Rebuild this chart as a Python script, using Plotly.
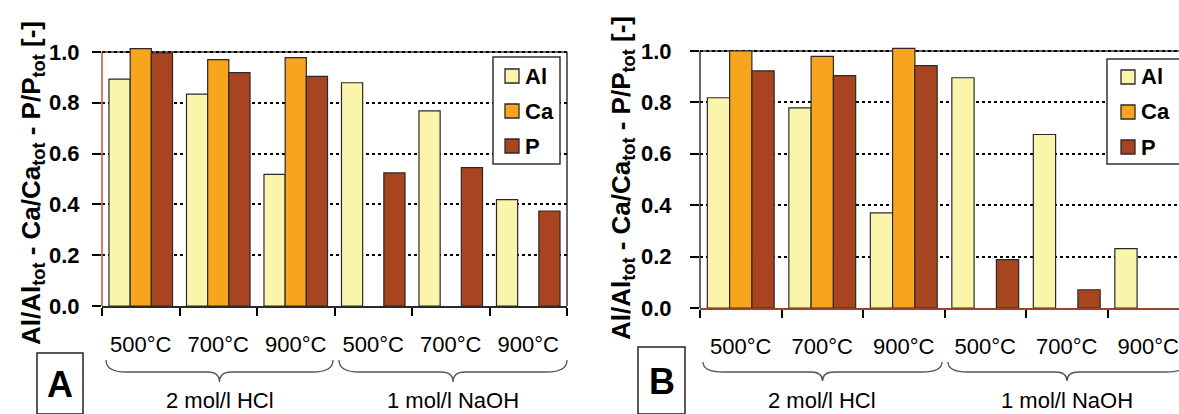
import plotly.graph_objects as go

# ---------------- data ----------------
temps = ["500°C", "700°C", "900°C", "500°C", "700°C", "900°C"]
acids = ["2 mol/l HCl", "1 mol/l NaOH"]
series = ["Al", "Ca", "P"]
y_ticks = [0.0, 0.2, 0.4, 0.6, 0.8, 1.0]

a_al = [0.893, 0.834, 0.518, 0.879, 0.768, 0.419]
a_ca = [1.013, 0.970, 0.978, None, None, None]
a_p = [0.996, 0.919, 0.904, 0.524, 0.545, 0.374]

b_al = [0.818, 0.779, 0.370, 0.896, 0.675, 0.231]
b_ca = [1.000, 0.979, 1.010, None, None, None]
b_p = [0.923, 0.904, 0.943, 0.188, 0.071, None]

# ---------------- style ----------------
W, H = 1179, 414
FONT = "Liberation Sans, Arial, sans-serif"
colors = {"Al": "#FAF5AA", "Ca": "#F8A51E", "P": "#A8441F"}
edge = "#2a2a2a"


def px(x):
    return x / W


def py(y):
    return 1 - y / H


xpos = list(range(len(temps)))

fig = go.Figure()
for panel, vals, xa, ya in [
    ("A", [a_al, a_ca, a_p], "x", "y"),
    ("B", [b_al, b_ca, b_p], "x2", "y2"),
]:
    for name, v in zip(series, vals):
        fig.add_trace(go.Bar(
            x=xpos, y=v, name=name, xaxis=xa, yaxis=ya, showlegend=False,
            marker=dict(color=colors[name], line=dict(color=edge, width=1.2)),
        ))

# panel geometry (pixels)
A_x0, A_x1, A_y0, A_unit = 102, 567, 306, 254
B_x0, B_x1, B_y0, B_unit = 700, 1179, 308, 257
B_group = 81.5
top = 1.02


def xaxis_cfg(domain, rng):
    return dict(
        domain=domain, range=rng, tickmode="array", tickvals=xpos, ticktext=temps,
        ticks="", showgrid=False, zeroline=False, showline=True,
        linecolor=edge, linewidth=1.5, automargin=False,
        tickfont=dict(family=FONT, size=22, color="black"),
        ticklabelstandoff=18, ticklabeloverflow="allow",
        minor=dict(tickmode="array", tickvals=[i - 0.5 for i in range(len(temps) + 1)],
                   ticks="outside", ticklen=8, tickcolor="black", tickwidth=1.5,
                   showgrid=False),
    )


def yaxis_cfg(domain, anchor):
    return dict(
        domain=domain, range=[0, top], anchor=anchor, automargin=False,
        tickmode="array", tickvals=y_ticks, showticklabels=False,
        ticks="outside", ticklen=9, tickcolor="black", tickwidth=1.5,
        showgrid=True, gridcolor="black", griddash="dot", gridwidth=1.5,
        zeroline=False, showline=False,
    )


fig.update_layout(
    width=W, height=H, margin=dict(l=0, r=0, t=0, b=0, pad=0, autoexpand=False),
    paper_bgcolor="white", plot_bgcolor="white", showlegend=False,
    barmode="group", bargap=0.18, bargroupgap=0,
    xaxis=xaxis_cfg([px(A_x0), px(A_x1)], [-0.5, 5.5]) | dict(anchor="y"),
    yaxis=yaxis_cfg([py(A_y0), py(A_y0 - top * A_unit)], "x"),
    xaxis2=xaxis_cfg([px(B_x0), 1.0], [-0.5, -0.5 + (B_x1 - B_x0) / B_group]) | dict(anchor="y2", linecolor="#9a4426"),
    yaxis2=yaxis_cfg([py(B_y0), py(B_y0 - top * B_unit)], "x2"),
)

shapes = []
# panel frames
shapes.append(dict(type="line", xref="x domain", yref="y", x0=0, x1=1, y0=1, y1=1,
                   line=dict(color="#333", width=1.5), layer="below"))
shapes.append(dict(type="line", xref="x domain", yref="y", x0=1, x1=1, y0=0, y1=1,
                   line=dict(color="#333", width=1.5), layer="below"))
shapes.append(dict(type="line", xref="x domain", yref="y", x0=0, x1=0, y0=0, y1=1,
                   line=dict(color="#c4532b", width=1.5), layer="above"))
shapes.append(dict(type="line", xref="x2 domain", yref="y2", x0=0, x1=1, y0=1, y1=1,
                   line=dict(color="#333", width=1.5), layer="below"))
shapes.append(dict(type="line", xref="x2 domain", yref="y2", x0=0, x1=0, y0=0, y1=1,
                   line=dict(color="#333", width=1.5), layer="above"))


def brace(x0, x1, yt, ym, yb):
    xc = (x0 + x1) / 2
    pts = [
        "M %f,%f" % (px(x0), py(yt)),
        "Q %f,%f %f,%f" % (px(x0), py(ym), px(x0 + 20), py(ym)),
        "L %f,%f" % (px(xc - 12), py(ym)),
        "Q %f,%f %f,%f" % (px(xc), py(ym), px(xc), py(yb)),
        "Q %f,%f %f,%f" % (px(xc), py(ym), px(xc + 12), py(ym)),
        "L %f,%f" % (px(x1 - 20), py(ym)),
        "Q %f,%f %f,%f" % (px(x1), py(ym), px(x1), py(yt)),
    ]
    return dict(type="path", xref="paper", yref="paper", path=" ".join(pts),
                line=dict(color="#555", width=1.3))


shapes += [brace(106, 333, 360, 372, 382), brace(339, 567, 360, 372, 382),
           brace(703, 942, 362, 372, 381), brace(948, 1186, 362, 372, 381)]

# letter boxes
for (x0, x1, y0) in [(37, 83, 353), (638, 685, 347)]:
    shapes.append(dict(type="rect", xref="paper", yref="paper",
                       x0=px(x0), x1=px(x1), y0=py(414), y1=py(y0),
                       line=dict(color="#222", width=1.5), fillcolor="white"))

annotations = []

# y tick labels, placed on each panel's y scale
for yref, xr in [("y", 82), ("y2", 674)]:
    for t in y_ticks:
        annotations.append(dict(text="<b>%.1f</b>" % t, xref="paper", yref=yref,
                                x=px(xr), y=t, xanchor="right", yanchor="middle",
                                showarrow=False,
                                font=dict(family=FONT, size=22, color="black")))

# legends (drawn manually: box, swatches, labels)
for (bx0, bx1, by0, by1, sx, ycs) in [
    (493, 560, 57, 164, 505, [76, 111, 146]),
    (1107, 1195, 59, 164, 1121, [77, 112, 147]),
]:
    shapes.append(dict(type="rect", xref="paper", yref="paper",
                       x0=px(bx0), x1=px(bx1), y0=py(by1), y1=py(by0),
                       line=dict(color="#333", width=1.5), fillcolor="white", layer="above"))
    for name, yc in zip(series, ycs):
        shapes.append(dict(type="rect", xref="paper", yref="paper",
                           x0=px(sx), x1=px(sx + 14), y0=py(yc + 7), y1=py(yc - 7),
                           line=dict(color=edge, width=1.3), fillcolor=colors[name],
                           layer="above"))
        annotations.append(dict(text="<b>%s</b>" % name, xref="paper", yref="paper",
                                x=px(sx + 18), y=py(yc), xanchor="left", yanchor="middle",
                                showarrow=False,
                                font=dict(family=FONT, size=22, color="black")))

ytitle = "<b>Al/Al<sub>tot</sub> - Ca/Ca<sub>tot</sub> - P/P<sub>tot</sub> [-]</b>"
for (x, y) in [(33, 183), (622, 178)]:
    annotations.append(dict(text=ytitle, xref="paper", yref="paper", x=px(x), y=py(y),
                            xanchor="center", yanchor="middle",
                            textangle=-90, showarrow=False,
                            font=dict(family=FONT, size=26, color="black")))
for (x, t) in [(220, acids[0]), (453, acids[1]), (822, acids[0]), (1067, acids[1])]:
    annotations.append(dict(text=t, xref="paper", yref="paper", x=px(x), y=py(400),
                            xanchor="center", yanchor="middle",
                            showarrow=False, font=dict(family=FONT, size=22, color="black")))
for (x, y, t) in [(60, 384, "A"), (661.5, 381, "B")]:
    annotations.append(dict(text="<b>%s</b>" % t, xref="paper", yref="paper", x=px(x), y=py(y),
                            xanchor="center", yanchor="middle",
                            showarrow=False, font=dict(family=FONT, size=36, color="black")))

fig.update_layout(shapes=shapes, annotations=annotations)
fig.write_html("out.html")
